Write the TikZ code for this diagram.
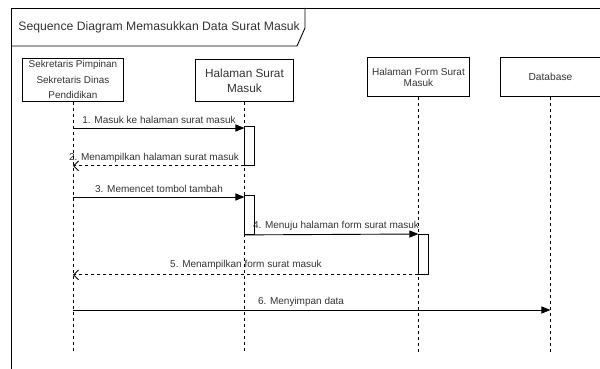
\documentclass[tikz,border=0pt]{standalone}
\usepackage{fontspec}
\setmainfont{Liberation Sans}
\usetikzlibrary{arrows.meta}
\definecolor{ink}{HTML}{333333}
\begin{document}
\begin{tikzpicture}[x=1pt,y=-1pt,
  line width=0.9pt,
  hdr/.style={draw=black, fill=white, text=ink, align=center, inner sep=0pt, anchor=north west},
  life/.style={draw=black, dash pattern=on 3pt off 3pt},
  act/.style={draw=black, fill=white, anchor=north west, minimum width=10pt, inner sep=0pt},
  msg/.style={-{Triangle[length=9pt,width=7pt]}},
  ret/.style={dashed, dash pattern=on 3pt off 3pt, -{Straight Barb[length=5pt,width=10pt]}},
  lbl/.style={text=ink, font=\fontsize{10}{11}\selectfont, inner sep=0pt}
]
\useasboundingbox (0,0) rectangle (600,369);
\clip (0,0) rectangle (600,369);

% outer frame and title tab
\draw (11,390) -- (11,8) -- (620,8);
\draw (11,46) -- (297,46) -- (305,28) -- (305,8);
\node[text=ink, font=\fontsize{12.2}{14}\selectfont, anchor=west, inner sep=0pt] (title) at (18,27)
  {Sequence Diagram Memasukkan Data Surat Masuk};

% lifeline heads
\node[hdr, minimum width=101pt, minimum height=43pt, font=\fontsize{9.9}{15.5}\selectfont] (p1) at (22,58)
  {Sekretaris Pimpinan\\Sekretaris Dinas\\Pendidikan};
\node[hdr, minimum width=98pt, minimum height=42pt, font=\fontsize{11.8}{15}\selectfont] (p2) at (195,59)
  {Halaman Surat\\Masuk};
\node[hdr, minimum width=102pt, minimum height=39pt, font=\fontsize{10}{11}\selectfont] (p3) at (367,57)
  {Halaman Form Surat\\Masuk};
\node[hdr, minimum width=100pt, minimum height=39pt, font=\fontsize{10.2}{12}\selectfont] (p4) at (500,57)
  {Database};

% lifeline ends
\coordinate (e1) at (p1.south |- 0,353);
\coordinate (e2) at (p2.south |- 0,353);
\coordinate (e3) at (p3.south |- 0,353);
\coordinate (e4) at (p4.south |- 0,353);
\draw[life] (p1.south) -- (e1);
\draw[life] (p2.south) -- (e2);
\draw[life] (p3.south) -- (e3);
\draw[life] (p4.south) -- (e4);

% activation bars
\node[act, minimum height=39pt] (a1) at (p2.south |- 0,126) {};
\node[act, minimum height=39pt] (a2) at (p2.south |- 0,195) {};
\node[act, minimum height=40pt] (a3) at (p3.south |- 0,234) {};

% message anchor points on the lifelines
\coordinate (m1a) at (p1.south |- 0,128);
\coordinate (m1b) at (a1.west |- 0,128);
\coordinate (m2a) at (a1.south west);
\coordinate (m2b) at (p1.south |- a1.south);
\coordinate (m3a) at (p1.south |- 0,197);
\coordinate (m3b) at (a2.west |- 0,197);
\coordinate (m4a) at (a2.south west);
\coordinate (m4b) at (a3.north west);
\coordinate (m5a) at (a3.south west);
\coordinate (m5b) at (p1.south |- a3.south);
\coordinate (m6a) at (p1.south |- 0,310);
\coordinate (m6b) at (p4.south |- 0,310);

% messages
\draw[msg] (m1a) -- (m1b);
\node[lbl] (t1) at (159,120) {1. Masuk ke halaman surat masuk};
\draw[ret] (m2a) -- (m2b);
\node[lbl] (t2) at (154,157.5) {2. Menampilkan halaman surat masuk};
\draw[msg] (m3a) -- (m3b);
\node[lbl] (t3) at (159,189) {3. Memencet tombol tambah};
\draw[msg] (m4a) -- (m4b);
\node[lbl] (t4) at (336,226) {4. Menuju halaman form surat masuk};
\draw[ret] (m5a) -- (m5b);
\node[lbl] (t5) at (246,265) {5. Menampilkan form surat masuk};
\draw[msg] (m6a) -- (m6b);
\node[lbl] (t6) at (301,302) {6. Menyimpan data};
\end{tikzpicture}
\end{document}
